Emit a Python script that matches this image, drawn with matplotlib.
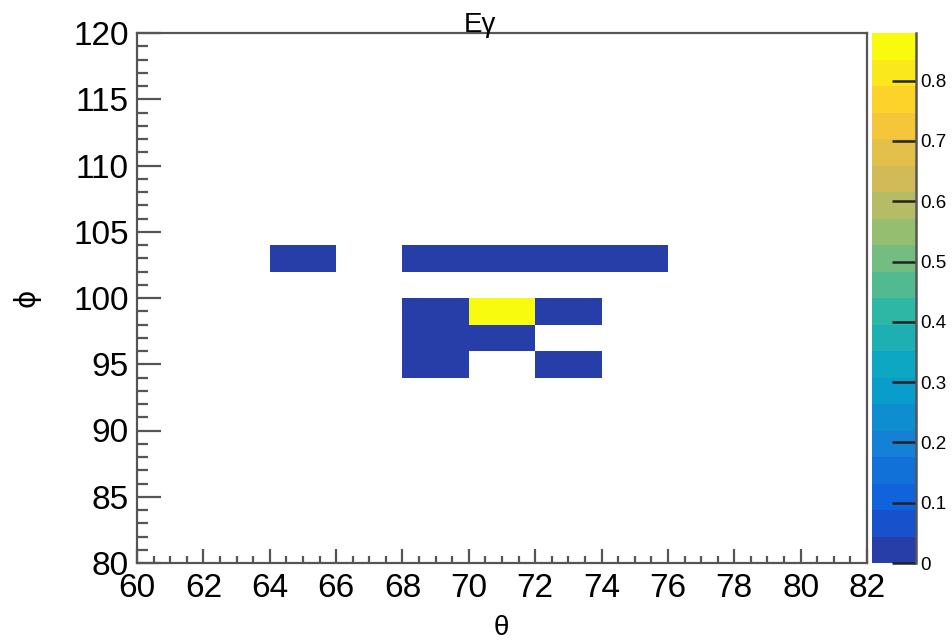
import matplotlib
matplotlib.use("Agg")
import matplotlib.pyplot as plt
import numpy as np
from matplotlib.colors import LinearSegmentedColormap, ListedColormap, Normalize
from matplotlib.lines import Line2D

plt.rcParams["font.family"] = ["Liberation Sans", "DejaVu Sans"]

# bin centres (theta, phi) of the filled cells and their energy
theta = [65, 69, 71, 73, 75, 69, 71, 73, 69, 71, 69, 73]
phi = [103, 103, 103, 103, 103, 99, 99, 99, 97, 97, 95, 95]
e_gamma = [0.021, 0.012, 0.018, 0.030, 0.009, 0.026, 0.879, 0.015, 0.034, 0.023, 0.011, 0.019]

theta_edges = np.arange(60, 84, 2)
phi_edges = np.arange(80, 122, 2)
cbar_ticks = [0, 0.1, 0.2, 0.3, 0.4, 0.5, 0.6, 0.7, 0.8]

# ROOT kBird palette, 20 contour levels
stops = [0.0, 0.125, 0.25, 0.375, 0.5, 0.625, 0.75, 0.875, 1.0]
red = [0.2082, 0.0592, 0.0780, 0.0232, 0.1802, 0.5301, 0.8186, 0.9956, 0.9764]
green = [0.1664, 0.3599, 0.5041, 0.6419, 0.7178, 0.7492, 0.7328, 0.7862, 0.9832]
blue = [0.5293, 0.8684, 0.8385, 0.7914, 0.6425, 0.4662, 0.3499, 0.1968, 0.0539]
bird = LinearSegmentedColormap.from_list(
    "bird", [(s, (r, g, b)) for s, r, g, b in zip(stops, red, green, blue)], N=255)
ncont = 20
levels = [bird(int((i + 0.99) * 255 / ncont) / 254) for i in range(ncont)]
cmap = ListedColormap(levels)

hist, _, _ = np.histogram2d(theta, phi, bins=[theta_edges, phi_edges], weights=e_gamma)
hist = np.ma.masked_equal(hist.T, 0)
zmax = max(e_gamma)

W, H = 952, 640
fig = plt.figure(figsize=(W / 100, H / 100), dpi=100)
ax = fig.add_axes([137 / W, 1 - 563 / H, (867 - 137) / W, (563 - 33) / H])
cax = fig.add_axes([872 / W, 1 - 563 / H, (916 - 872) / W, (563 - 33) / H])

mesh = ax.pcolormesh(theta_edges, phi_edges, hist, cmap=cmap,
                     norm=Normalize(0, zmax), edgecolors="none", antialiased=False)
ax.set_xlim(60, 82)
ax.set_ylim(80, 120)

axis_col = "#555555"
for side, sp in ax.spines.items():
    sp.set_color(axis_col)
    sp.set_linewidth(1.6)

ax.set_xticks(np.arange(60, 83, 2))
ax.set_xticks(np.arange(60, 82.5, 0.5), minor=True)
ax.set_yticks(np.arange(80, 121, 5))
ax.set_yticks(np.arange(80, 121, 1), minor=True)
ax.tick_params(axis="x", which="major", direction="in", length=10, width=1.6,
               color=axis_col, labelsize=24, pad=7)
ax.tick_params(axis="x", which="minor", direction="in", length=5, width=1.6, color=axis_col)
ax.tick_params(axis="y", which="major", direction="in", length=17, width=1.6,
               color=axis_col, labelsize=24, pad=6)
ax.tick_params(axis="y", which="minor", direction="in", length=8, width=1.6, color=axis_col)

fig.text(0.527, 1 - 628 / H, "θ", ha="center", va="center", fontsize=20)
fig.text(27 / W, 1 - 298 / H, "ϕ", ha="center", va="center", fontsize=20, rotation=90,
         family=["DejaVu Sans"])
fig.text(480 / W, 1 - 32 / H, "Eγ", ha="center", va="baseline", fontsize=20)

cb = fig.colorbar(mesh, cax=cax, ticks=cbar_ticks)
cb.outline.set_visible(False)
cb.ax.set_yticklabels(["0", "0.1", "0.2", "0.3", "0.4", "0.5", "0.6", "0.7", "0.8"])
cb.ax.tick_params(direction="in", length=17, width=1.8, color="#222222",
                  labelsize=13.5, pad=3)
cb.ax.minorticks_off()
cax.add_line(Line2D([1, 1], [0, 1], transform=cax.transAxes, color=axis_col,
                    linewidth=1.8, clip_on=False))

fig.savefig("out.png", dpi=100)
